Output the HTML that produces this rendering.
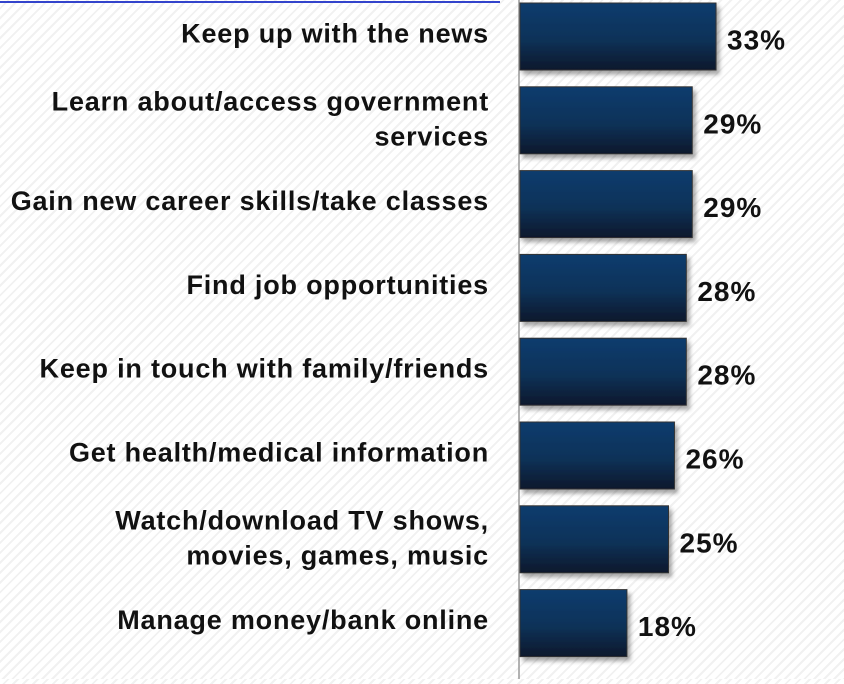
<!DOCTYPE html>
<html><head><meta charset="utf-8"><style>
html,body{margin:0;padding:0}
body{width:844px;height:679px;overflow:hidden;background:repeating-linear-gradient(135deg,#fff 0 5px,#f1f1f1 5px 7px);font-family:"Liberation Sans",sans-serif}
</style></head><body>
<svg width="844" height="679" id="chart">
<defs><linearGradient id="g" x1="0" y1="0" x2="0" y2="1">
<stop offset="0" stop-color="#0a3c6e"/><stop offset="0.55" stop-color="#0a3258"/><stop offset="1" stop-color="#07182c"/></linearGradient>
<filter id="sh" x="-5%" y="-5%" width="115%" height="125%"><feDropShadow dx="3" dy="4" stdDeviation="2" flood-color="#000" flood-opacity="0.35"/></filter></defs>
<line x1="0" y1="2" x2="500" y2="2" stroke="#3344cc" stroke-width="2"/>
<line x1="519" y1="0" x2="519" y2="679" stroke="#999" stroke-width="1.5"/>
</svg>
<script>
const categories=[["Keep up with the news"],["Learn about/access government","services"],["Gain new career skills/take classes"],["Find job opportunities"],["Keep in touch with family/friends"],["Get health/medical information"],["Watch/download TV shows,","movies, games, music"],["Manage money/bank online"]];
const values=[33,29,29,28,28,26,25,18];
const valueLabels=["33%","29%","29%","28%","28%","26%","25%","18%"];
const svg=document.getElementById('chart');
const NS='http://www.w3.org/2000/svg';
const x0=520,pxPer=5.94,top0=3,step=83.8,bh=67;
function xs(v){return x0+v*pxPer;}
function ys(i){return top0+i*step;}
values.forEach((v,i)=>{
const mid=ys(i)+bh/2;
const r=document.createElementNS(NS,'rect');


r.setAttribute('x',x0);r.setAttribute('y',ys(i));r.setAttribute('width',xs(v)-x0);r.setAttribute('height',bh);
r.setAttribute('fill','url(#g)');r.setAttribute('stroke','#333');r.setAttribute('stroke-width','1');r.setAttribute('filter','url(#sh)');
svg.appendChild(r);
const t=document.createElementNS(NS,'text');


t.setAttribute('x',xs(v)+11);t.setAttribute('y',mid+13);
t.setAttribute('font-size','28');t.setAttribute('font-weight','bold');t.setAttribute('letter-spacing','1');t.setAttribute('fill','#111');
t.textContent=valueLabels[i];svg.appendChild(t);
const lines=categories[i];
lines.forEach((ln,j)=>{
const c=document.createElementNS(NS,'text');


c.setAttribute('x',489);c.setAttribute('text-anchor','end');
const base=lines.length===1?mid+6:mid-10+j*35;
c.setAttribute('y',base);
c.setAttribute('font-size','27');c.setAttribute('font-weight','bold');c.setAttribute('letter-spacing','0.8');c.setAttribute('fill','#111');
c.textContent=ln;svg.appendChild(c);
});
});
</script>
</body></html>
